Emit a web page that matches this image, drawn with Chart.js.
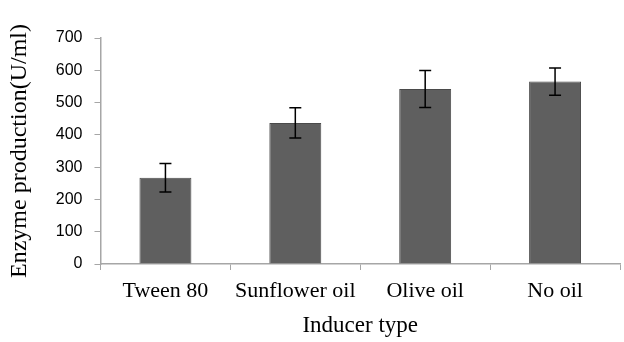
<!DOCTYPE html>
<html>
<head>
<meta charset="utf-8">
<script src="https://cdn.jsdelivr.net/npm/chart.js@4"></script>
<style>
  html, body { margin: 0; padding: 0; background: #fff; }
  #wrap { width: 624px; height: 342px; }
</style>
</head>
<body>
<div id="wrap"><canvas id="myChart"></canvas></div>
<script>
const categories = ['Tween 80', 'Sunflower oil', 'Olive oil', 'No oil'];
const production = [267, 437, 542, 565];
const errors = [44, 47, 57, 42];
const yTicks = [0, 100, 200, 300, 400, 500, 600, 700];

const axisGrey = '#a6a6a6';
const serif = '"Liberation Serif", "Times New Roman", serif';

// draws the black error bars with caps on top of the bars
const errorBars = {
  id: 'errorBars',
  afterDatasetsDraw(chart) {
    const ctx = chart.ctx;
    const y = chart.scales.y;
    const meta = chart.getDatasetMeta(0);
    ctx.save();
    ctx.strokeStyle = '#000';
    ctx.lineWidth = 1.5;
    meta.data.forEach((bar, i) => {
      const top = y.getPixelForValue(production[i] + errors[i]);
      const bot = y.getPixelForValue(production[i] - errors[i]);
      const cap = 6;
      ctx.beginPath();
      ctx.moveTo(bar.x, top);
      ctx.lineTo(bar.x, bot);
      ctx.moveTo(bar.x - cap, top);
      ctx.lineTo(bar.x + cap, top);
      ctx.moveTo(bar.x - cap, bot);
      ctx.lineTo(bar.x + cap, bot);
      ctx.stroke();
    });
    ctx.restore();
  }
};

const ctx = document.getElementById('myChart');
const myChart = new Chart(ctx, {
  type: 'bar',
  data: {
    labels: categories,
    datasets: [{
      label: 'Enzyme production',
      data: production,
      backgroundColor: '#5f5f5f',
      borderColor: '#4a4a4a',
      borderWidth: 1,
      categoryPercentage: 1,
      barPercentage: 0.4
    }]
  },
  options: {
    responsive: true,
    maintainAspectRatio: false,
    animation: false,
    layout: { padding: { top: 38, right: 4, left: 5, bottom: 2 } },
    plugins: {
      legend: { display: false },
      tooltip: { enabled: false }
    },
    scales: {
      x: {
        grid: {
          display: true,
          drawOnChartArea: false,
          drawTicks: true,
          tickLength: 6,
          color: axisGrey,
          offset: true
        },
        border: { color: axisGrey, width: 1.5 },
        ticks: {
          color: '#000',
          font: { family: serif, size: 22 },
          padding: 8
        },
        title: {
          display: true,
          text: 'Inducer type',
          color: '#000',
          font: { family: serif, size: 23 },
          padding: { top: 0, bottom: 0 }
        }
      },
      y: {
        min: 0,
        max: 700,
        afterBuildTicks(axis) {
          axis.ticks = yTicks.map(v => ({ value: v }));
        },
        grid: {
          display: true,
          drawOnChartArea: false,
          drawTicks: true,
          tickLength: 6,
          color: axisGrey
        },
        border: { color: axisGrey, width: 1.5 },
        ticks: {
          color: '#000',
          font: { family: '"Liberation Sans", Arial, sans-serif', size: 16 },
          padding: 12
        },
        title: {
          display: true,
          text: 'Enzyme production(U/ml)',
          color: '#000',
          font: { family: serif, size: 24 },
          padding: { top: 0, bottom: 10 }
        }
      }
    }
  },
  plugins: [errorBars]
});
</script>
</body>
</html>
